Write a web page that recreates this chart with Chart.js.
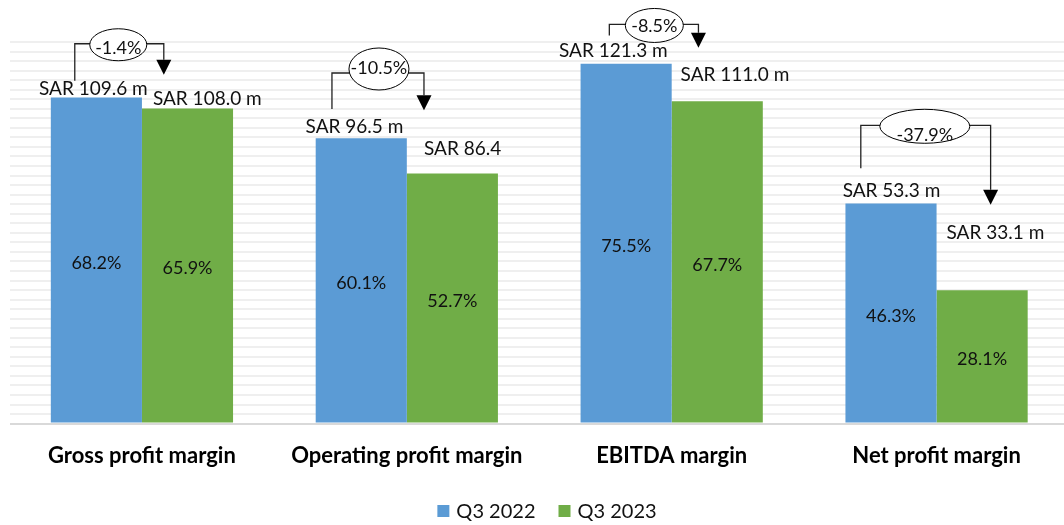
<!DOCTYPE html>
<html><head><meta charset="utf-8">
<script src="https://cdn.jsdelivr.net/npm/chart.js@4.4.0/dist/chart.umd.min.js"></script>
<style>
html,body{margin:0;padding:0;background:#fff;overflow:hidden;}
#wrap{position:relative;width:1070px;height:525px;}
</style></head><body>
<div id="wrap"><canvas id="c"></canvas></div>
<script>
// ---- data ----
const categories = ["Gross profit margin", "Operating profit margin", "EBITDA margin", "Net profit margin"];
const seriesNames = ["Q3 2022", "Q3 2023"];
const barQ3_2022 = [109.4, 95.7, 120.7, 73.8];
const barQ3_2023 = [105.7, 83.9, 108.1, 44.7];
const amountQ3_2022 = ["SAR 109.6 m", "SAR 96.5 m", "SAR 121.3 m", "SAR 53.3 m"];
const amountQ3_2023 = ["SAR 108.0 m", "SAR 86.4", "SAR 111.0 m", "SAR 33.1 m"];
const marginQ3_2022 = [68.2, 60.1, 75.5, 46.3];
const marginQ3_2023 = [65.9, 52.7, 67.7, 28.1];
const changePct = [-1.4, -10.5, -8.5, -37.9];
const yMax = 128;
const yStep = 3.2;

// ---- style / layout (offsets relative to bars) ----
const colors = ["#5b9bd5", "#70ad47"];
const FONT = "Lato, 'Liberation Sans', sans-serif";
const amountOffset2022 = [[-3, -8.7], [-6.8, -11.3], [-12.8, -13.3], [0.5, -12.3]];
const amountOffset2023 = [[19.8, -9.2], [10.3, -24.3], [17.7, -26.7], [13.3, -57]];
const annotLayout = [
  {lx: -21.6, lb: -16.7, ly: -53.7, ax: -23.7, at: -33.7, ex: 21.9, ey: -52.7, rx: 28.5, ry: 16, ty: 3},
  {lx: -29.3, lb: -29.3, ly: -65.3, ax: -28.4, at: -63.3, ex: 17.7, ey: -69.3, rx: 30, ry: 21, ty: -0.5},
  {lx: -16.8, lb: -28.3, ly: -39.3, ax: -18.8, at: -53.7, ex: 28.2, ey: -38.3, rx: 29, ry: 17, ty: 0.5},
  {lx: -30.2, lb: -35.3, ly: -78.3, ax: 8.5, at: -85.7, ex: 33.8, ey: -77.3, rx: 45, ry: 17, ty: 8.5}
];
const legendCenterX = 547, legendCenterY = 511;

const overlay = {
  id: 'overlay',
  afterDatasetsDraw(chart) {
    const ctx = chart.ctx;
    const m0 = chart.getDatasetMeta(0).data, m1 = chart.getDatasetMeta(1).data;
    ctx.save();
    ctx.textAlign = 'center';
    ctx.textBaseline = 'middle';
    categories.forEach((c, i) => {
      const b = m0[i], g = m1[i];
      ctx.fillStyle = '#111';
      // margin labels inside bars
      ctx.font = "18px " + FONT;
      ctx.fillText(marginQ3_2022[i].toFixed(1) + '%', b.x, (b.y + b.base) / 2 + 3);
      ctx.fillText(marginQ3_2023[i].toFixed(1) + '%', g.x, (g.y + g.base) / 2 + 3);
      // amount labels
      ctx.font = "19px " + FONT;
      ctx.fillText(amountQ3_2022[i], b.x + amountOffset2022[i][0], b.y + amountOffset2022[i][1]);
      ctx.fillText(amountQ3_2023[i], g.x + amountOffset2023[i][0], g.y + amountOffset2023[i][1]);
      // change annotation
      const L = annotLayout[i];
      const lx = b.x + L.lx, lb = b.y + L.lb, ly = b.y + L.ly;
      const ax = g.x + L.ax, tip = g.y + L.at, triTop = tip - 15;
      ctx.strokeStyle = '#222';
      ctx.lineWidth = 1.3;
      ctx.beginPath();
      ctx.moveTo(lx, lb); ctx.lineTo(lx, ly); ctx.lineTo(ax, ly); ctx.lineTo(ax, triTop);
      ctx.stroke();
      ctx.fillStyle = '#000';
      ctx.beginPath();
      ctx.moveTo(ax - 7.5, triTop); ctx.lineTo(ax + 7.5, triTop); ctx.lineTo(ax, tip); ctx.closePath();
      ctx.fill();
      const ex = b.x + L.ex, ey = b.y + L.ey;
      ctx.beginPath();
      ctx.ellipse(ex, ey, L.rx, L.ry, 0, 0, Math.PI * 2);
      ctx.fillStyle = '#fff';
      ctx.fill();
      ctx.lineWidth = 1;
      ctx.strokeStyle = '#000';
      ctx.stroke();
      ctx.fillStyle = '#111';
      ctx.font = "18px " + FONT;
      ctx.fillText(changePct[i].toFixed(1) + '%', ex, ey + L.ty);
    });
    ctx.restore();
  },
  afterDraw(chart) {
    // legend
    const ctx = chart.ctx;
    ctx.save();
    ctx.font = "20px " + FONT;
    ctx.textBaseline = 'middle';
    ctx.textAlign = 'left';
    const box = 12, gap = 7, spacing = 23;
    const widths = chart.data.datasets.map(d => ctx.measureText(d.label).width);
    let total = 0;
    widths.forEach((w, i) => { total += box + gap + w + (i ? spacing : 0); });
    let x = legendCenterX - total / 2;
    chart.data.datasets.forEach((d, i) => {
      ctx.fillStyle = d.backgroundColor;
      ctx.fillRect(x, legendCenterY - box / 2, box, box);
      ctx.fillStyle = '#111';
      ctx.fillText(d.label, x + box + gap, legendCenterY + 1);
      x += box + gap + widths[i] + spacing;
    });
    ctx.restore();
  }
};

new Chart(document.getElementById('c'), {
  type: 'bar',
  data: {
    labels: categories,
    datasets: [
      {label: seriesNames[0], data: barQ3_2022, backgroundColor: colors[0], categoryPercentage: 0.688, barPercentage: 1},
      {label: seriesNames[1], data: barQ3_2023, backgroundColor: colors[1], categoryPercentage: 0.688, barPercentage: 1}
    ]
  },
  options: {
    responsive: true,
    maintainAspectRatio: false,
    animation: false,
    layout: {padding: {left: 9.5, right: 1, top: 42, bottom: 37}},
    plugins: {legend: {display: false}, tooltip: {enabled: false}},
    scales: {
      x: {
        grid: {display: false, drawTicks: false},
        border: {display: false},
        ticks: {color: '#000', font: {family: FONT, weight: 'bold', size: 22}, padding: 19}
      },
      y: {
        min: 0, max: yMax,
        ticks: {display: false, stepSize: yStep},
        grid: {drawTicks: false, lineWidth: 2, color: c => c.tick.value === 0 ? '#d9d9d9' : '#efefef'},
        border: {display: false}
      }
    }
  },
  plugins: [overlay]
});
</script>
</body></html>
